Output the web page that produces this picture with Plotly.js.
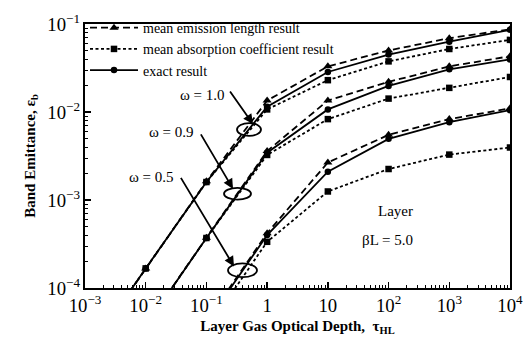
<!DOCTYPE html>
<html>
<head>
<meta charset="utf-8">
<script src="https://cdn.plot.ly/plotly-3.0.1.min.js"></script>
<style>html,body{margin:0;padding:0;background:#fff;}#chart{width:530px;height:341px;}</style>
</head>
<body>
<div id="chart"></div>
<script>
// Optical depth values
var tau = [1e-3, 1e-2, 1e-1, 1, 10, 100, 1000, 10000];

// omega = 1.0
var emis10 = [1.67e-5, 1.67e-4, 1.63e-3, 1.35e-2, 3.3e-2, 5.0e-2, 6.9e-2, 8.7e-2];
var abs10  = [1.67e-5, 1.67e-4, 1.60e-3, 1.07e-2, 2.3e-2, 3.76e-2, 5.2e-2, 6.6e-2];
var exact10= [1.67e-5, 1.67e-4, 1.60e-3, 1.15e-2, 2.85e-2, 4.5e-2, 6.3e-2, 8.6e-2];

// omega = 0.9
var emis09 = [3.7e-6, 3.7e-5, 3.73e-4, 3.6e-3, 1.35e-2, 2.2e-2, 3.3e-2, 4.3e-2];
var abs09  = [3.7e-6, 3.7e-5, 3.70e-4, 3.25e-3, 8.3e-3, 1.42e-2, 1.88e-2, 2.5e-2];
var exact09= [3.7e-6, 3.7e-5, 3.70e-4, 3.45e-3, 1.07e-2, 1.98e-2, 3.06e-2, 3.96e-2];

// omega = 0.5
var emis05 = [4.1e-7, 4.1e-6, 4.1e-5, 4.2e-4, 2.67e-3, 5.5e-3, 8.3e-3, 1.1e-2];
var abs05  = [3.35e-7, 3.35e-6, 3.35e-5, 3.35e-4, 1.25e-3, 2.25e-3, 3.28e-3, 3.95e-3];
var exact05= [4.0e-7, 4.0e-6, 4.0e-5, 4.0e-4, 2.1e-3, 4.95e-3, 7.65e-3, 1.05e-2];

var seriesNames = ["mean emission length result", "mean absorption coefficient result", "exact result"];
var omegaLabels = ["\u03c9 = 1.0", "\u03c9 = 0.9", "\u03c9 = 0.5"];

var FONT = "Liberation Serif, Times New Roman, serif";
var styles = [
  {dash: "7px,4px", symbol: "triangle-up", size: 8},
  {dash: "3px,2.5px", symbol: "square", size: 6.5},
  {dash: "solid", symbol: "circle", size: 6.5}
];
var groups = [[emis10, abs10, exact10], [emis09, abs09, exact09], [emis05, abs05, exact05]];

var traces = [];
groups.forEach(function(g, gi) {
  g.forEach(function(vals, si) {
    traces.push({
      x: tau, y: vals, type: "scatter", mode: "lines+markers",
      name: seriesNames[si], legendgroup: "s" + si, showlegend: gi === 0,
      line: {color: "#000", width: 1.8, dash: styles[si].dash},
      marker: {color: "#000", symbol: styles[si].symbol, size: styles[si].size}
    });
  });
});

function px(x) { return (x - 85) / 425; }
function py(y) { return (288 - y) / 269; }

var ellipses = [[237, 120, 261, 133], [224, 186, 251, 198], [228, 263, 257, 277]];
var shapes = ellipses.map(function(e) {
  return {type: "circle", xref: "paper", yref: "paper",
    x0: px(e[0]), x1: px(e[2]), y0: py(e[3]), y1: py(e[1]),
    line: {color: "#000", width: 1.8}};
});

var arrows = [[229, 87, 253, 121], [200, 131, 233, 187], [180, 176, 234, 266]];
var annotations = arrows.map(function(a) {
  return {xref: "paper", yref: "paper", x: px(a[2]), y: py(a[3]),
    ax: a[0] - a[2], ay: a[1] - a[3], text: "", showarrow: true,
    arrowhead: 2, arrowsize: 1.1, arrowwidth: 1.8, arrowcolor: "#000"};
});
var labelPos = [[227, 91], [196, 129], [176, 174.5]];
labelPos.forEach(function(p, i) {
  annotations.push({xref: "paper", yref: "paper", x: px(p[0]), y: py(p[1]),
    xanchor: "right", yanchor: "middle", text: omegaLabels[i], showarrow: false,
    font: {family: FONT, size: 15, color: "#000"}});
});
annotations.push({xref: "paper", yref: "paper", x: px(415), y: py(220), text: "Layer",
  showarrow: false, font: {family: FONT, size: 15, color: "#000"}});
annotations.push({xref: "paper", yref: "paper", x: px(415), y: py(249), text: "\u03b2L = 5.0",
  showarrow: false, font: {family: FONT, size: 15, color: "#000"}});

var axisCommon = {
  type: "log", dtick: 1, exponentformat: "power", showgrid: false, zeroline: false,
  showline: true, linecolor: "#000", linewidth: 2, mirror: true,
  ticks: "inside", ticklen: 6, tickwidth: 1.5, tickcolor: "#000",
  minor: {ticks: "inside", ticklen: 3, tickwidth: 1, tickcolor: "#000", dtick: "D1", showgrid: false},
  tickfont: {family: FONT, size: 15, color: "#000"}
};

var layout = {
  width: 530, height: 341,
  margin: {l: 85, r: 20, t: 19, b: 53},
  paper_bgcolor: "#fff", plot_bgcolor: "#fff",
  font: {family: FONT, color: "#000"},
  xaxis: Object.assign({}, axisCommon, {
    range: [-3, 4],
    title: {text: "<b>Layer Gas Optical Depth,  \u03c4<sub>HL</sub></b>", font: {family: FONT, size: 15}, standoff: 6}
  }),
  yaxis: Object.assign({}, axisCommon, {
    range: [-4, -1],
    title: {text: "<b>Band Emittance, \u03b5<sub>b</sub></b>", font: {family: FONT, size: 15}, standoff: 8}
  }),
  showlegend: true,
  legend: {x: 0.0, y: 1.045, xanchor: "left", yanchor: "top", bgcolor: "rgba(0,0,0,0)",
    font: {family: FONT, size: 14, color: "#000"}, tracegroupgap: 0, itemwidth: 48},
  shapes: shapes,
  annotations: annotations
};

Plotly.newPlot("chart", traces, layout, {staticPlot: true, displayModeBar: false});
</script>
</body>
</html>
